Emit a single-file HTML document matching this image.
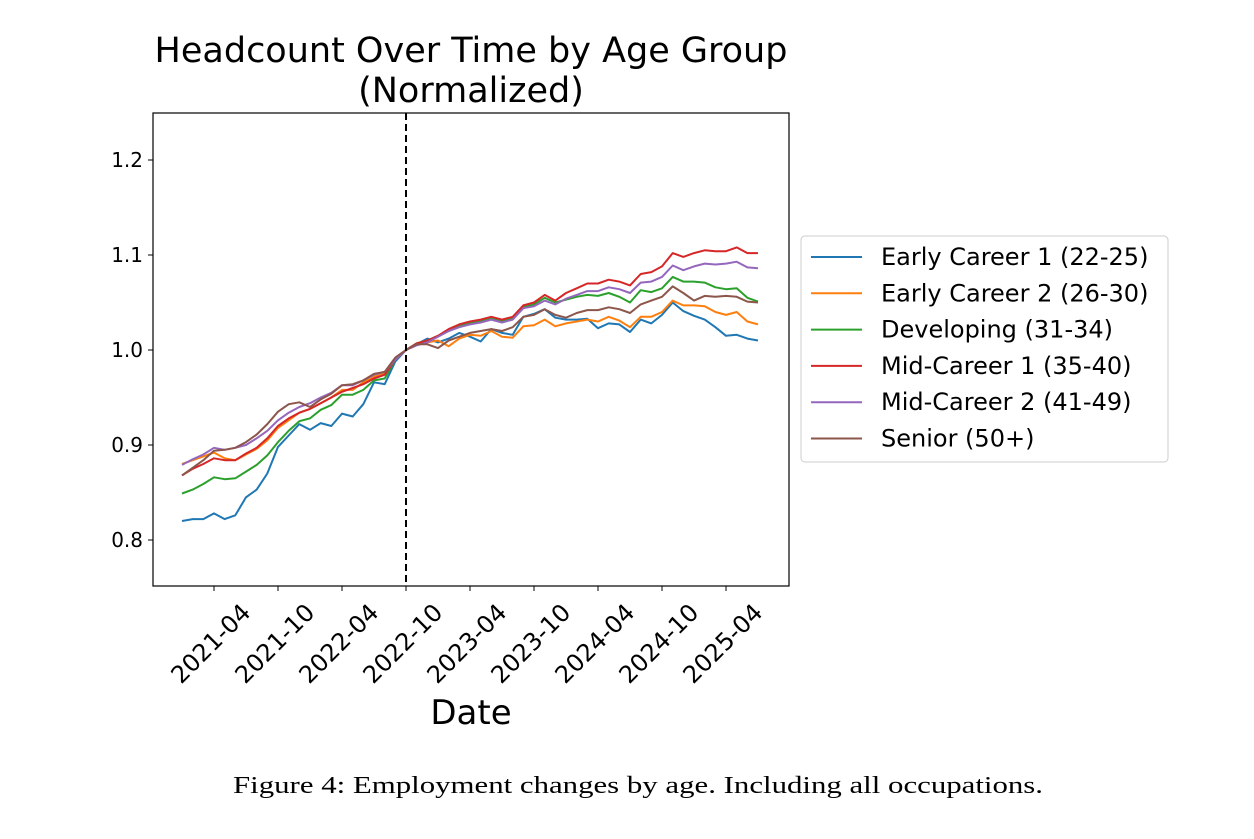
<!DOCTYPE html>
<html><head><meta charset="utf-8"><style>
body{margin:0;background:#fff;width:1254px;height:834px;overflow:hidden}
svg text{font-family:"DejaVu Sans","Liberation Sans",sans-serif;fill:#000}
</style></head><body>
<svg id="chart" width="1254" height="834" xmlns="http://www.w3.org/2000/svg">
<text x="471" y="62" font-size="35" text-anchor="middle">Headcount Over Time by Age Group</text>
<text x="471" y="102" font-size="35" text-anchor="middle">(Normalized)</text>
<text x="471" y="724" font-size="34" text-anchor="middle">Date</text>
<text x="233" y="793" font-size="24" textLength="810" lengthAdjust="spacingAndGlyphs" style="font-family:'Liberation Serif',serif">Figure 4: Employment changes by age. Including all occupations.</text>
<g id="plot"></g>
<g id="legend"></g>
</svg>
<script>
const names=["Early Career 1 (22-25)","Early Career 2 (26-30)","Developing (31-34)","Mid-Career 1 (35-40)","Mid-Career 2 (41-49)","Senior (50+)"];
const colors=["#1f77b4","#ff7f0e","#2ca02c","#d62728","#9467bd","#8c564b"];
const yTicks=[0.8,0.9,1.0,1.1,1.2];
const xTickLabels=["2021-04","2021-10","2022-04","2022-10","2023-04","2023-10","2024-04","2024-10","2025-04"];
const xTickMonths=[3,9,15,21,27,33,39,45,51];
const refMonth=21;
const early1=[.820,.822,.822,.828,.822,.826,.845,.853,.870,.898,.910,.922,.916,.923,.920,.933,.930,.943,.966,.964,.988,1.000,1.006,1.012,1.008,1.012,1.018,1.014,1.009,1.022,1.018,1.016,1.035,1.038,1.043,1.034,1.032,1.032,1.033,1.023,1.028,1.027,1.019,1.032,1.028,1.037,1.050,1.041,1.036,1.032,1.024,1.015,1.016,1.012,1.010];
const early2=[.880,.884,.888,.892,.886,.884,.890,.896,.905,.918,.926,.934,.938,.944,.950,.958,.958,.966,.972,.975,.990,1.000,1.006,1.008,1.010,1.004,1.012,1.016,1.015,1.020,1.014,1.013,1.025,1.026,1.032,1.025,1.028,1.030,1.032,1.030,1.035,1.031,1.024,1.035,1.035,1.040,1.052,1.047,1.047,1.046,1.040,1.037,1.040,1.030,1.027];
const developing=[.849,.853,.859,.866,.864,.865,.872,.879,.889,.903,.915,.925,.928,.937,.942,.953,.953,.958,.968,.970,.990,1.000,1.007,1.010,1.015,1.020,1.025,1.028,1.030,1.033,1.030,1.033,1.045,1.048,1.055,1.050,1.053,1.056,1.058,1.057,1.060,1.056,1.050,1.063,1.061,1.065,1.077,1.072,1.072,1.071,1.066,1.064,1.065,1.055,1.051];
const mid1=[.868,.875,.880,.886,.884,.884,.891,.897,.907,.920,.928,.934,.938,.944,.950,.956,.960,.964,.970,.974,.990,1.000,1.007,1.010,1.015,1.022,1.027,1.030,1.032,1.035,1.032,1.035,1.047,1.050,1.058,1.052,1.060,1.065,1.070,1.070,1.074,1.072,1.068,1.080,1.082,1.088,1.102,1.098,1.102,1.105,1.104,1.104,1.108,1.102,1.102];
const mid2=[.879,.885,.890,.897,.895,.897,.900,.907,.915,.926,.934,.940,.944,.950,.955,.963,.963,.968,.974,.977,.990,1.000,1.005,1.008,1.014,1.020,1.024,1.027,1.029,1.032,1.029,1.032,1.044,1.046,1.052,1.048,1.054,1.058,1.062,1.062,1.066,1.064,1.060,1.071,1.072,1.077,1.089,1.084,1.088,1.091,1.090,1.091,1.093,1.087,1.086];
const senior=[.868,.876,.884,.894,.895,.897,.903,.911,.922,.935,.943,.945,.940,.948,.954,.963,.964,.968,.975,.977,.992,1.000,1.006,1.006,1.002,1.010,1.014,1.018,1.020,1.022,1.020,1.024,1.035,1.037,1.043,1.037,1.034,1.039,1.042,1.042,1.045,1.043,1.039,1.048,1.052,1.056,1.067,1.060,1.052,1.057,1.056,1.057,1.056,1.051,1.050];
const series=[early1,early2,developing,mid1,mid2,senior];

const NS="http://www.w3.org/2000/svg";
const L=153,R=789,T=113,B=586;
const x=m=>182+m*10.667;
const y=v=>350-(v-1)*950;
function mk(tag,attrs,parent){const e=document.createElementNS(NS,tag);for(const k in attrs)e.setAttribute(k,attrs[k]);parent.appendChild(e);return e;}
const plot=document.getElementById('plot');
series.forEach((s,i)=>{
  const p=mk('polyline',{points:s.map((v,j)=>x(j).toFixed(1)+','+y(v).toFixed(1)).join(' '),fill:'none',stroke:colors[i],'stroke-width':2,'stroke-linejoin':'round'},plot);
  
  
});
const vl=mk('line',{x1:x(refMonth),x2:x(refMonth),y1:T,y2:B,stroke:'#000','stroke-width':2,'stroke-dasharray':'7,4'},plot);


const fr=mk('rect',{x:L,y:T,width:R-L,height:B-T,fill:'none',stroke:'#000','stroke-width':1.2},plot);


yTicks.forEach(v=>{
  mk('line',{x1:L-5,x2:L,y1:y(v),y2:y(v),stroke:'#000'},plot);
  const t=mk('text',{x:L-10,y:y(v)+7,'font-size':20,'text-anchor':'end'},plot);
  t.textContent=v.toFixed(1);
  
  
});
xTickMonths.forEach((m,i)=>{
  const xx=x(m);
  mk('line',{x1:xx,x2:xx,y1:B,y2:B+5,stroke:'#000'},plot);
  const ax=xx+38, ay=B+28;
  const t=mk('text',{x:ax,y:ay,'font-size':24,'text-anchor':'end',transform:`rotate(-45 ${ax} ${ay})`},plot);
  t.textContent=xTickLabels[i];
  
  
});
const lg=document.getElementById('legend');
const lb=mk('rect',{x:801,y:236,width:367,height:226,rx:4,fill:'#fff',stroke:'#ccc'},lg);


names.forEach((n,i)=>{
  const yy=257+i*36.3;
  const ln=mk('line',{x1:811,x2:862,y1:yy,y2:yy,stroke:colors[i],'stroke-width':2},lg);
  
  
  const t=mk('text',{x:881,y:yy+8,'font-size':24},lg);
  t.textContent=n;
  
  
});
</script>
</body></html>
